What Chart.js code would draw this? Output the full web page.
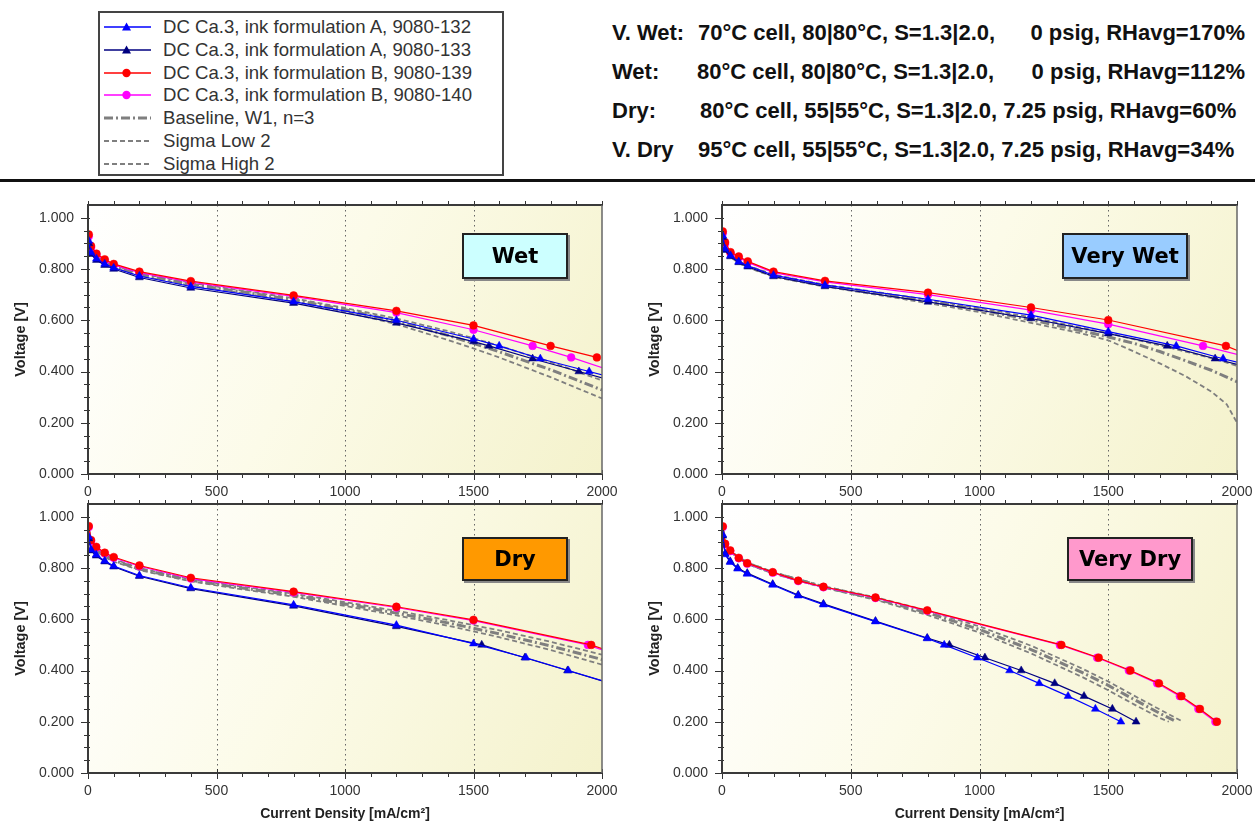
<!DOCTYPE html>
<html>
<head>
<meta charset="utf-8">
<script src="https://cdn.jsdelivr.net/npm/chart.js@4.4.1/dist/chart.umd.min.js"></script>
<style>
  html, body { margin: 0; padding: 0; background: #fff; }
  body { width: 1255px; height: 823px; position: relative; overflow: hidden;
         font-family: 'Liberation Sans', Arial, sans-serif; }
  #legend { position: absolute; left: 98px; top: 11px; width: 402px; height: 161px;
            border: 2px solid #444; background: #fff; }
  .lrow { position: absolute; left: 0; height: 22px; font-size: 18.6px; color: #333;
          line-height: 22px; white-space: nowrap; }
  .lrow svg { position: absolute; left: 3px; top: 0; }
  .lrow span { position: absolute; left: 63px; top: 0; }
  .cond { position: absolute; font-weight: bold; font-size: 22px; color: #111;
          white-space: pre; line-height: 26px; }
  #rule { position: absolute; left: 0; top: 179px; width: 1255px; height: 3px; background: #111; }
  canvas { position: absolute; }
  .tag { position: absolute; border: 2px solid #222; box-shadow: 2px 2px 0 #888;
         font-family: 'DejaVu Sans', sans-serif; font-weight: bold; font-size: 21px;
         display: flex; align-items: center; justify-content: center; color: #000;
         box-sizing: border-box; z-index: 5; }
</style>
</head>
<body>
<div id="legend"></div>
<div id="rule"></div>

<script>
// ---- data: current density [mA/cm2] and cell voltage [V] ----

// Wet
const WET_I_132 = [3, 12, 33, 65, 100, 200, 400, 800, 1200, 1500, 1600, 1760, 1950, 2140];
const WET_V_132 = [0.910, 0.865, 0.840, 0.820, 0.805, 0.773, 0.732, 0.673, 0.600, 0.527, 0.500, 0.450, 0.400, 0.350];
const WET_I_133 = [3, 12, 33, 65, 100, 200, 400, 800, 1200, 1500, 1560, 1730, 1910, 2090];
const WET_V_133 = [0.900, 0.858, 0.835, 0.815, 0.800, 0.767, 0.726, 0.667, 0.590, 0.517, 0.500, 0.450, 0.400, 0.350];
const WET_I_139 = [3, 12, 33, 65, 100, 200, 400, 800, 1200, 1500, 1800, 1980];
const WET_V_139 = [0.935, 0.890, 0.860, 0.838, 0.820, 0.790, 0.753, 0.697, 0.637, 0.580, 0.500, 0.455];
const WET_I_140 = [3, 12, 33, 65, 100, 200, 400, 800, 1200, 1500, 1730, 1880, 2045];
const WET_V_140 = [0.928, 0.884, 0.856, 0.834, 0.816, 0.786, 0.749, 0.693, 0.630, 0.563, 0.500, 0.455, 0.400];
const WET_I_GRAY = [3, 12, 33, 65, 100, 200, 400, 600, 800, 1000, 1200, 1400, 1500, 1600, 1800, 2000];
const WET_V_BASE = [0.920, 0.874, 0.847, 0.826, 0.810, 0.779, 0.740, 0.711, 0.680, 0.641, 0.597, 0.541, 0.510, 0.477, 0.407, 0.328];
const WET_V_LOW  = [0.915, 0.869, 0.842, 0.821, 0.805, 0.774, 0.735, 0.706, 0.673, 0.633, 0.585, 0.523, 0.490, 0.455, 0.378, 0.295];
const WET_V_HIGH = [0.925, 0.879, 0.852, 0.831, 0.815, 0.784, 0.746, 0.716, 0.686, 0.648, 0.607, 0.558, 0.530, 0.500, 0.437, 0.365];

// Very wet
const VW_I_132 = [3, 12, 33, 65, 100, 200, 400, 800, 1200, 1500, 1764, 1946, 2150];
const VW_V_132 = [0.930, 0.879, 0.853, 0.829, 0.813, 0.776, 0.737, 0.682, 0.620, 0.556, 0.500, 0.450, 0.400];
const VW_I_133 = [3, 12, 33, 65, 100, 200, 400, 800, 1200, 1500, 1729, 1915, 2110];
const VW_V_133 = [0.924, 0.874, 0.849, 0.826, 0.809, 0.771, 0.732, 0.672, 0.607, 0.548, 0.500, 0.450, 0.400];
const VW_I_139 = [3, 12, 33, 65, 100, 200, 400, 800, 1200, 1500, 1957, 2080];
const VW_V_139 = [0.947, 0.905, 0.866, 0.849, 0.830, 0.790, 0.754, 0.708, 0.650, 0.601, 0.500, 0.450];
const VW_I_140 = [3, 12, 33, 65, 100, 200, 400, 800, 1200, 1500, 1868, 2068];
const VW_V_140 = [0.940, 0.898, 0.862, 0.845, 0.826, 0.786, 0.750, 0.700, 0.640, 0.585, 0.500, 0.450];
const VW_I_GRAY = [3, 12, 33, 65, 100, 200, 400, 600, 800, 1000, 1200, 1400, 1500, 1600, 1700, 1800, 1900, 1960, 2000];
const VW_V_BASE = [0.926, 0.876, 0.851, 0.827, 0.810, 0.774, 0.735, 0.705, 0.674, 0.641, 0.602, 0.558, 0.535, 0.510, 0.478, 0.442, 0.405, 0.378, 0.360];
const VW_V_LOW  = [0.922, 0.872, 0.847, 0.823, 0.806, 0.770, 0.731, 0.700, 0.667, 0.632, 0.590, 0.548, 0.522, 0.478, 0.432, 0.382, 0.322, 0.272, 0.200];
const VW_V_HIGH = [0.930, 0.880, 0.855, 0.831, 0.814, 0.778, 0.739, 0.710, 0.680, 0.648, 0.612, 0.570, 0.550, 0.526, 0.502, 0.478, 0.452, 0.435, 0.422];

// Dry
const DRY_I_132 = [3, 12, 32, 65, 100, 200, 400, 800, 1200, 1500, 1704, 1869, 2034];
const DRY_V_132 = [0.922, 0.872, 0.852, 0.828, 0.808, 0.771, 0.723, 0.656, 0.577, 0.505, 0.450, 0.400, 0.350];
const DRY_I_133 = [3, 12, 32, 65, 100, 200, 400, 800, 1200, 1532, 1700, 1866, 2030];
const DRY_V_133 = [0.915, 0.868, 0.848, 0.825, 0.805, 0.768, 0.720, 0.652, 0.572, 0.500, 0.450, 0.400, 0.350];
const DRY_I_139 = [3, 12, 32, 65, 100, 200, 400, 800, 1200, 1500, 1958, 2100];
const DRY_V_139 = [0.964, 0.909, 0.883, 0.860, 0.843, 0.810, 0.762, 0.708, 0.649, 0.598, 0.500, 0.450];
const DRY_I_140 = [3, 12, 32, 65, 100, 200, 400, 800, 1200, 1500, 1945, 2090];
const DRY_V_140 = [0.960, 0.905, 0.880, 0.857, 0.840, 0.807, 0.759, 0.705, 0.646, 0.595, 0.500, 0.450];
const DRY_I_GRAY = [3, 12, 33, 65, 100, 200, 400, 600, 800, 1000, 1200, 1400, 1500, 1600, 1800, 2000];
const DRY_V_BASE = [0.945, 0.895, 0.870, 0.848, 0.830, 0.796, 0.752, 0.722, 0.694, 0.660, 0.624, 0.586, 0.565, 0.543, 0.496, 0.443];
const DRY_V_LOW  = [0.940, 0.890, 0.865, 0.843, 0.825, 0.792, 0.748, 0.717, 0.688, 0.652, 0.615, 0.575, 0.553, 0.530, 0.480, 0.423];
const DRY_V_HIGH = [0.950, 0.900, 0.875, 0.853, 0.835, 0.800, 0.756, 0.727, 0.700, 0.667, 0.633, 0.597, 0.577, 0.557, 0.512, 0.462];

// Very dry
const VD_I_132 = [3, 12, 32, 61, 98, 197, 296, 394, 596, 797, 863, 992, 1117, 1232, 1344, 1450, 1549];
const VD_V_132 = [0.930, 0.853, 0.823, 0.797, 0.777, 0.734, 0.692, 0.657, 0.591, 0.525, 0.500, 0.450, 0.400, 0.350, 0.300, 0.250, 0.200];
const VD_I_133 = [3, 12, 32, 61, 98, 197, 296, 394, 596, 797, 883, 1021, 1162, 1292, 1406, 1516, 1608];
const VD_V_133 = [0.926, 0.856, 0.826, 0.800, 0.780, 0.737, 0.695, 0.660, 0.593, 0.527, 0.500, 0.450, 0.400, 0.350, 0.300, 0.250, 0.200];
const VD_I_139 = [3, 12, 32, 65, 98, 197, 296, 394, 596, 797, 1318, 1463, 1586, 1697, 1784, 1856, 1922];
const VD_V_139 = [0.963, 0.895, 0.869, 0.840, 0.819, 0.784, 0.751, 0.727, 0.685, 0.635, 0.500, 0.450, 0.400, 0.350, 0.300, 0.250, 0.200];
const VD_I_140 = [3, 12, 32, 65, 98, 197, 296, 394, 596, 797, 1312, 1457, 1580, 1690, 1778, 1850, 1916];
const VD_V_140 = [0.960, 0.892, 0.866, 0.838, 0.817, 0.782, 0.749, 0.725, 0.683, 0.633, 0.500, 0.450, 0.400, 0.350, 0.300, 0.250, 0.200];
const VD_I_BASE = [3, 12, 33, 65, 100, 200, 400, 600, 800, 1000, 1200, 1400, 1500, 1600, 1700, 1765];
const VD_V_BASE = [0.955, 0.895, 0.865, 0.840, 0.818, 0.781, 0.725, 0.680, 0.625, 0.560, 0.482, 0.392, 0.342, 0.287, 0.233, 0.200];
const VD_I_LOW  = [3, 12, 33, 65, 100, 200, 400, 600, 800, 1000, 1200, 1400, 1500, 1600, 1700, 1735];
const VD_V_LOW  = [0.952, 0.892, 0.862, 0.837, 0.815, 0.778, 0.722, 0.675, 0.616, 0.548, 0.467, 0.374, 0.323, 0.268, 0.215, 0.200];
const VD_I_HIGH = [3, 12, 33, 65, 100, 200, 400, 600, 800, 1000, 1200, 1400, 1500, 1600, 1700, 1790];
const VD_V_HIGH = [0.958, 0.898, 0.868, 0.843, 0.821, 0.784, 0.728, 0.685, 0.633, 0.572, 0.497, 0.407, 0.357, 0.302, 0.248, 0.200];

// axis ticks
const X_TICKS = [0, 500, 1000, 1500, 2000];
const X_GRID = [500, 1000, 1500];
const Y_TICKS = [0, 0.2, 0.4, 0.6, 0.8, 1.0];

// test conditions printed in the header
const COND_LABELS = ['V. Wet:', 'Wet:', 'Dry:', 'V. Dry'];
const COND_TEXT = [
  '70°C cell, 80|80°C, S=1.3|2.0,',
  '80°C cell, 80|80°C, S=1.3|2.0,',
  '80°C cell, 55|55°C, S=1.3|2.0, 7.25 psig, RHavg=60%',
  '95°C cell, 55|55°C, S=1.3|2.0, 7.25 psig, RHavg=34%'
];
const COND_TAIL = ['0 psig, RHavg=170%', '0 psig, RHavg=112%', '', ''];

// ---- styles ----
const FONT = "'Liberation Sans', Arial, sans-serif";
const SERIES = [
  { label: 'DC Ca.3, ink formulation A, 9080-132', color: '#0000ff', marker: 'triangle' },
  { label: 'DC Ca.3, ink formulation A, 9080-133', color: '#000080', marker: 'triangle' },
  { label: 'DC Ca.3, ink formulation B, 9080-139', color: '#ff0000', marker: 'circle' },
  { label: 'DC Ca.3, ink formulation B, 9080-140', color: '#ff00ff', marker: 'circle' },
  { label: 'Baseline, W1, n=3', color: '#7f7f7f', dash: [9, 3, 2, 3], width: 3 },
  { label: 'Sigma Low 2', color: '#7f7f7f', dash: [5, 3], width: 1.8 },
  { label: 'Sigma High 2', color: '#7f7f7f', dash: [5, 3], width: 1.8 }
];

const PANELS = [
  { tag: 'Wet', tagColor: '#ccffff', box: [462, 233, 106, 46],
    pos: [0, 188, 620, 317], padTop: 17, yW: 88, xH: 31, ytPad: 12, xTitle: false,
    series: [[WET_I_132, WET_V_132], [WET_I_133, WET_V_133], [WET_I_139, WET_V_139], [WET_I_140, WET_V_140],
             [WET_I_GRAY, WET_V_BASE], [WET_I_GRAY, WET_V_LOW], [WET_I_GRAY, WET_V_HIGH]] },
  { tag: 'Very Wet', tagColor: '#99ccff', box: [1062, 233, 126, 46],
    pos: [630, 188, 625, 317], padTop: 17, yW: 92, xH: 31, ytPad: 16, xTitle: false,
    series: [[VW_I_132, VW_V_132], [VW_I_133, VW_V_133], [VW_I_139, VW_V_139], [VW_I_140, VW_V_140],
             [VW_I_GRAY, VW_V_BASE], [VW_I_GRAY, VW_V_LOW], [VW_I_GRAY, VW_V_HIGH]] },
  { tag: 'Dry', tagColor: '#ff9900', box: [462, 537, 106, 44],
    pos: [0, 497, 620, 326], padTop: 7, yW: 88, xH: 50, ytPad: 12, xTitle: true,
    series: [[DRY_I_132, DRY_V_132], [DRY_I_133, DRY_V_133], [DRY_I_139, DRY_V_139], [DRY_I_140, DRY_V_140],
             [DRY_I_GRAY, DRY_V_BASE], [DRY_I_GRAY, DRY_V_LOW], [DRY_I_GRAY, DRY_V_HIGH]] },
  { tag: 'Very Dry', tagColor: '#ff99cc', box: [1067, 537, 126, 44],
    pos: [630, 497, 625, 326], padTop: 7, yW: 92, xH: 50, ytPad: 16, xTitle: true,
    series: [[VD_I_132, VD_V_132], [VD_I_133, VD_V_133], [VD_I_139, VD_V_139], [VD_I_140, VD_V_140],
             [VD_I_BASE, VD_V_BASE], [VD_I_LOW, VD_V_LOW], [VD_I_HIGH, VD_V_HIGH]] }
];

// ---- header: legend box and condition text ----
const legend = document.getElementById('legend');
SERIES.forEach((s, i) => {
  const row = document.createElement('div');
  row.className = 'lrow';
  row.style.top = (3 + i * 22.8) + 'px';
  let mark = '';
  if (s.marker === 'triangle') mark = `<polygon points="23.5,6.5 28,14.5 19,14.5" fill="${s.color}"/>`;
  if (s.marker === 'circle') mark = `<circle cx="23.5" cy="11" r="4.2" fill="${s.color}"/>`;
  const dash = s.dash ? `stroke-dasharray="${s.dash.join(' ')}"` : '';
  row.innerHTML = `<svg width="50" height="22"><line x1="1" y1="11" x2="48" y2="11" stroke="${s.color}"
      stroke-width="${s.width || 1.3}" ${dash}/>${mark}</svg><span>${s.label}</span>`;
  legend.appendChild(row);
});

const COND_BODY_X = [698, 697, 700, 698];
COND_LABELS.forEach((lab, i) => {
  const top = 20 + i * 39;
  const a = document.createElement('div');
  a.className = 'cond'; a.style.left = '612px'; a.style.top = top + 'px'; a.textContent = lab;
  const b = document.createElement('div');
  b.className = 'cond'; b.style.left = COND_BODY_X[i] + 'px'; b.style.top = top + 'px'; b.textContent = COND_TEXT[i];
  document.body.append(a, b);
  if (COND_TAIL[i]) {
    const c = document.createElement('div');
    c.className = 'cond'; c.style.right = (1255 - 1245) + 'px'; c.style.top = top + 'px'; c.textContent = COND_TAIL[i];
    document.body.appendChild(c);
  }
});

// ---- panel decoration: gradient plot background, dotted grid, frame and tick marks ----
const panelDecor = {
  id: 'panelDecor',
  beforeDraw(chart) {
    const { ctx, chartArea: a, scales: { x } } = chart;
    ctx.save();
    const g = ctx.createLinearGradient(a.left, a.top, a.right, a.bottom);
    g.addColorStop(0, '#ffffff');
    g.addColorStop(0.45, '#fcfbe9');
    g.addColorStop(1, '#f4f2cc');
    ctx.fillStyle = g;
    ctx.fillRect(a.left, a.top, a.width, a.height);
    ctx.strokeStyle = '#666';
    ctx.lineWidth = 1;
    ctx.setLineDash([1.5, 3.5]);
    X_GRID.forEach(v => {
      const px = Math.round(x.getPixelForValue(v)) + 0.5;
      ctx.beginPath(); ctx.moveTo(px, a.top); ctx.lineTo(px, a.bottom); ctx.stroke();
    });
    ctx.restore();
  },
  afterDatasetsDraw(chart) {
    const { ctx, chartArea: a, scales: { x, y } } = chart;
    ctx.save();
    ctx.strokeStyle = '#333';
    ctx.lineWidth = 1;
    ctx.beginPath();
    for (let k = 0; k <= 20; k++) {           // y ticks every 0.05 V
      const py = Math.round(y.getPixelForValue(k * 0.05)) + 0.5;
      const len = k % 4 === 0 ? 7 : 4;
      ctx.moveTo(a.left - len, py); ctx.lineTo(a.left + 2, py);
    }
    for (let k = 0; k <= 20; k++) {           // x ticks every 100 mA/cm2
      const px = Math.round(x.getPixelForValue(k * 100)) + 0.5;
      const major = k % 5 === 0;
      ctx.moveTo(px, a.bottom + (major ? 6 : 4)); ctx.lineTo(px, a.bottom - (major ? 4 : 1));
      ctx.moveTo(px, a.top - 4); ctx.lineTo(px, a.top + 1);
    }
    ctx.stroke();
    ctx.lineWidth = 2;
    ctx.strokeStyle = '#3a3a3a';
    ctx.beginPath();
    ctx.moveTo(a.right, a.top); ctx.lineTo(a.left, a.top); ctx.lineTo(a.left, a.bottom); ctx.lineTo(a.right, a.bottom);
    ctx.stroke();
    ctx.strokeStyle = '#666';
    ctx.lineWidth = 1.5;
    ctx.beginPath(); ctx.moveTo(a.right, a.top); ctx.lineTo(a.right, a.bottom); ctx.stroke();
    ctx.restore();
  }
};

Chart.defaults.font.family = FONT;

PANELS.forEach(p => {
  const cv = document.createElement('canvas');
  const [l, t, w, h] = p.pos;
  cv.width = w; cv.height = h;
  cv.style.left = l + 'px'; cv.style.top = t + 'px';
  cv.style.width = w + 'px'; cv.style.height = h + 'px';
  document.body.appendChild(cv);

  const tag = document.createElement('div');
  tag.className = 'tag';
  const [bx, by, bw, bh] = p.box;
  Object.assign(tag.style, { left: bx + 'px', top: by + 'px', width: bw + 'px', height: bh + 'px', background: p.tagColor });
  tag.textContent = p.tag;
  document.body.appendChild(tag);

  const datasets = p.series.map(([I, V], i) => {
    const s = SERIES[i];
    return {
      label: s.label,
      data: I.map((c, k) => ({ x: c, y: V[k] })),
      borderColor: s.color,
      backgroundColor: s.color,
      borderWidth: s.width || 1.2,
      borderDash: s.dash || [],
      pointStyle: s.marker || 'circle',
      pointRadius: s.marker ? (s.marker === 'triangle' ? 4.6 : 3.9) : 0,
      pointBorderWidth: 0.5,
      tension: 0
    };
  });

  new Chart(cv.getContext('2d'), {
    type: 'line',
    data: { datasets },
    plugins: [panelDecor],
    options: {
      responsive: false,
      animation: false,
      devicePixelRatio: 1,
      layout: { padding: { top: p.padTop, right: 18, left: 0, bottom: 0 } },
      plugins: { legend: { display: false }, tooltip: { enabled: false } },
      scales: {
        x: {
          type: 'linear', min: 0, max: 2000,
          grid: { display: false, drawTicks: false },
          border: { display: false },
          afterBuildTicks: s => { s.ticks = X_TICKS.map(v => ({ value: v })); },
          afterFit: s => { s.height = p.xH; s.paddingLeft = 0; s.paddingRight = 0; },
          ticks: { autoSkip: false, maxRotation: 0, padding: 10, color: '#333',
                   font: { size: 14 }, callback: v => String(v) },
          title: { display: p.xTitle, text: 'Current Density [mA/cm²]', color: '#222',
                   font: { size: 14, weight: 'bold' }, padding: { top: 0, bottom: 0 } }
        },
        y: {
          type: 'linear', min: 0, max: 1.05,
          grid: { display: false, drawTicks: false },
          border: { display: false },
          afterBuildTicks: s => { s.ticks = Y_TICKS.map(v => ({ value: v })); },
          afterFit: s => { s.width = p.yW; s.paddingTop = 0; s.paddingBottom = 0; },
          ticks: { autoSkip: false, padding: 14, color: '#333', font: { size: 14 },
                   callback: v => Number(v).toFixed(3) },
          title: { display: true, text: 'Voltage [V]', color: '#222',
                   font: { size: 14.5, weight: 'bold' }, padding: { top: p.ytPad, bottom: 0 } }
        }
      }
    }
  });
});
</script>
</body>
</html>
